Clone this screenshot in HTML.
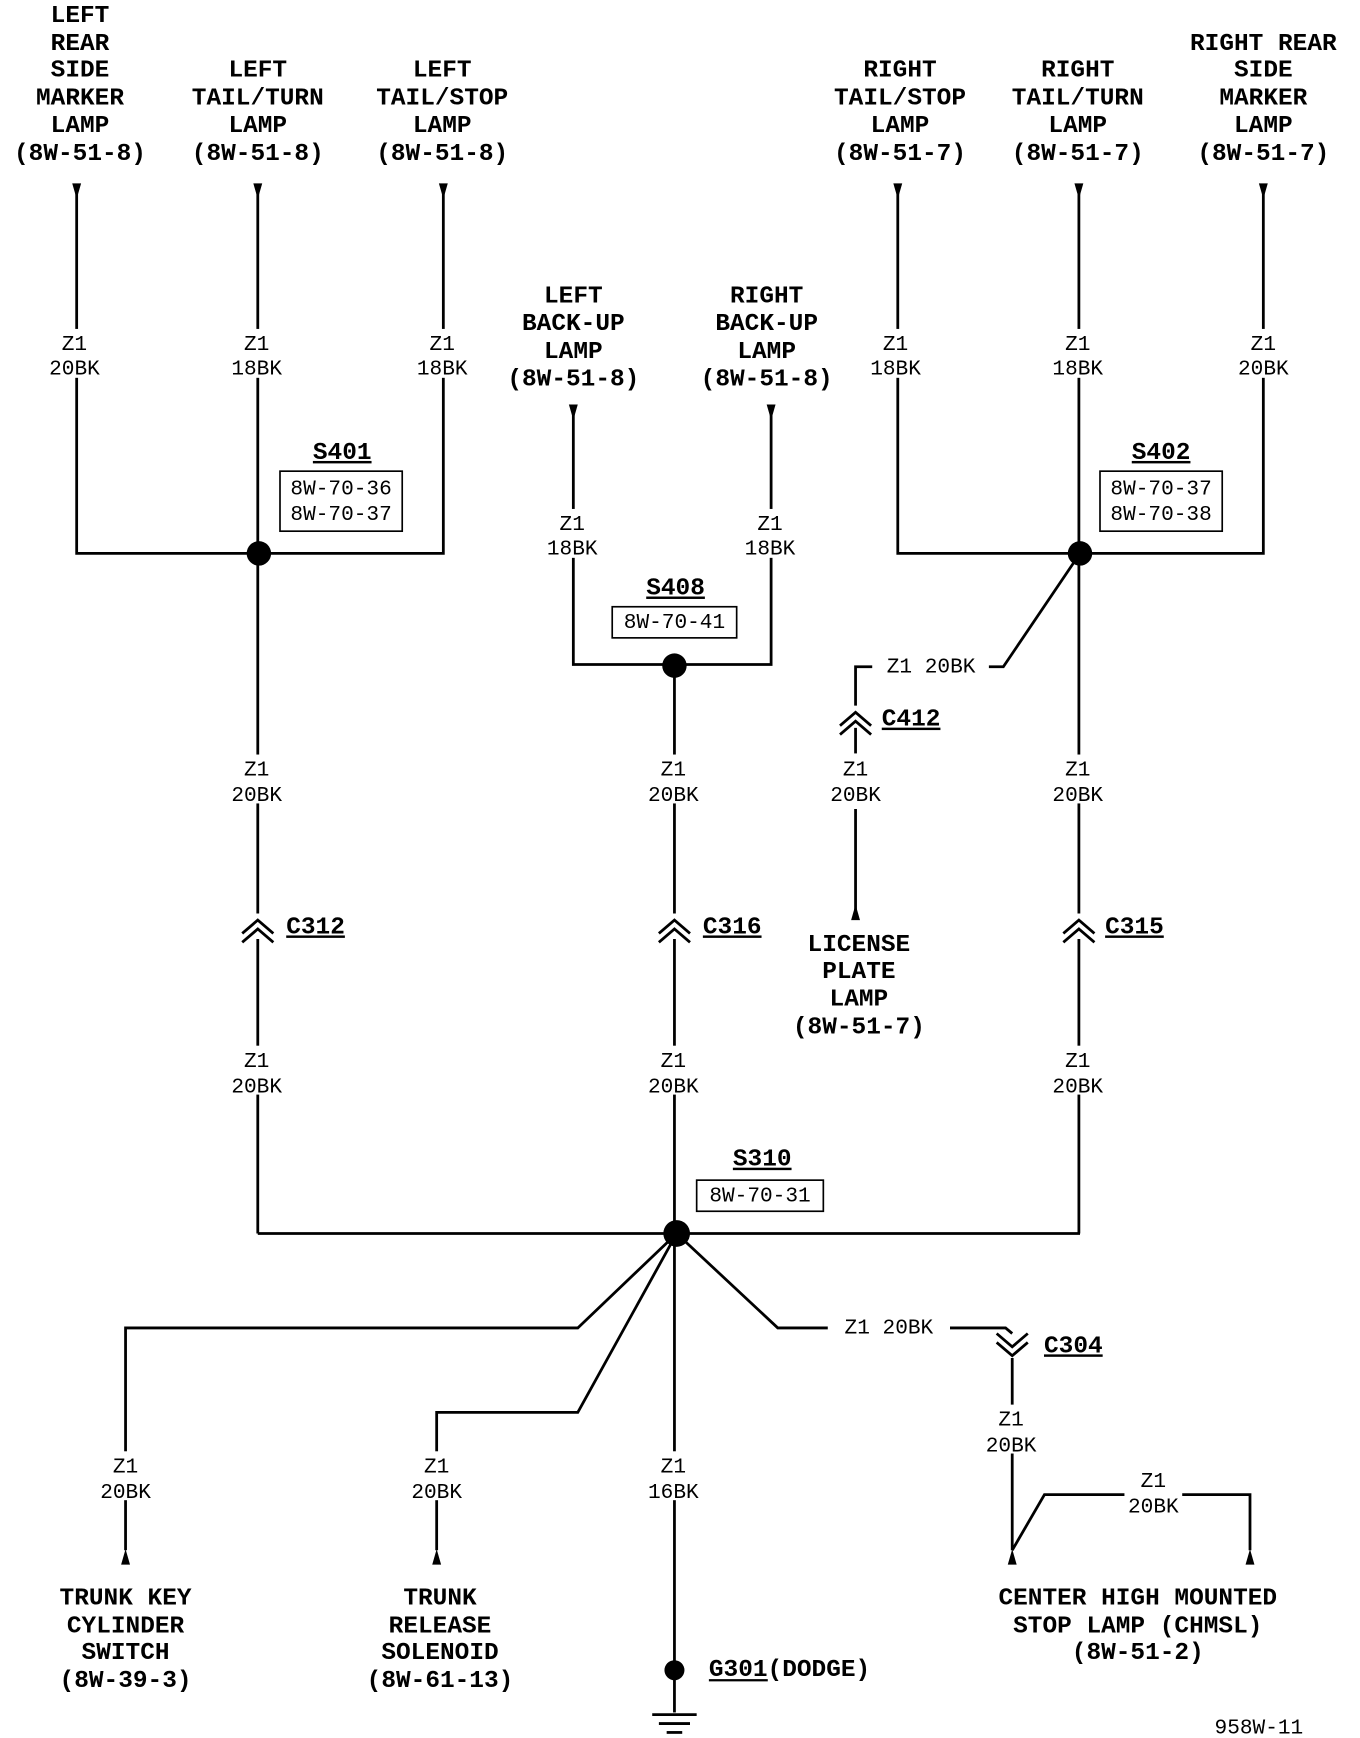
<!DOCTYPE html>
<html><head><meta charset="utf-8"><style>
html,body{margin:0;padding:0;background:#fff;}
svg{display:block}
.b{font-family:"Liberation Mono",monospace;font-weight:bold;font-size:22px;text-anchor:middle;fill:#000}
.w{font-family:"Liberation Mono",monospace;font-size:19px;text-anchor:middle;fill:#000}
.bx{font-family:"Liberation Mono",monospace;font-size:19px;text-anchor:middle;fill:#000}
line,polyline{stroke:#000;stroke-width:2.5;fill:none}
rect{fill:none;stroke:#000;stroke-width:1.5}
</style></head><body>
<svg width="1360" height="1738" viewBox="0 0 1224 1564" preserveAspectRatio="none" xmlns="http://www.w3.org/2000/svg">
<defs>
<path id="ad" d="M-4,0 L4,0 L0,14 Z" fill="#000"/>
<path id="au" d="M-4,0 L4,0 L0,-14 Z" fill="#000"/>
<g id="cu"><path d="M-14,10 L0,-2 L14,10 M-14,18 L0,6 L14,18" style="stroke:#000;stroke-width:2.5;fill:none"/></g>
<g id="cd"><path d="M-14,-10 L0,2 L14,-10 M-14,-18 L0,-6 L14,-18" style="stroke:#000;stroke-width:2.5;fill:none"/></g>
</defs>
<g transform="translate(0,-2)">
<g class="b">
<text x="72" y="22">LEFT</text><text x="72" y="47">REAR</text><text x="72" y="71">SIDE</text><text x="72" y="96">MARKER</text><text x="72" y="121">LAMP</text><text x="72" y="146">(8W-51-8)</text>
<text x="232" y="71">LEFT</text><text x="232" y="96">TAIL/TURN</text><text x="232" y="121">LAMP</text><text x="232" y="146">(8W-51-8)</text>
<text x="398" y="71">LEFT</text><text x="398" y="96">TAIL/STOP</text><text x="398" y="121">LAMP</text><text x="398" y="146">(8W-51-8)</text>
<text x="810" y="71">RIGHT</text><text x="810" y="96">TAIL/STOP</text><text x="810" y="121">LAMP</text><text x="810" y="146">(8W-51-7)</text>
<text x="970" y="71">RIGHT</text><text x="970" y="96">TAIL/TURN</text><text x="970" y="121">LAMP</text><text x="970" y="146">(8W-51-7)</text>
<text x="1137" y="47">RIGHT REAR</text><text x="1137" y="71">SIDE</text><text x="1137" y="96">MARKER</text><text x="1137" y="121">LAMP</text><text x="1137" y="146">(8W-51-7)</text>
<text x="516" y="274">LEFT</text><text x="516" y="299">BACK-UP</text><text x="516" y="324">LAMP</text><text x="516" y="349">(8W-51-8)</text>
<text x="690" y="274">RIGHT</text><text x="690" y="299">BACK-UP</text><text x="690" y="324">LAMP</text><text x="690" y="349">(8W-51-8)</text>
<text x="773" y="858">LICENSE</text><text x="773" y="882">PLATE</text><text x="773" y="907">LAMP</text><text x="773" y="932">(8W-51-7)</text>
<text x="113" y="1446">TRUNK KEY</text><text x="113" y="1471">CYLINDER</text><text x="113" y="1495">SWITCH</text><text x="113" y="1520">(8W-39-3)</text>
<text x="396" y="1446">TRUNK</text><text x="396" y="1471">RELEASE</text><text x="396" y="1495">SOLENOID</text><text x="396" y="1520">(8W-61-13)</text>
<text x="1024" y="1446">CENTER HIGH MOUNTED</text><text x="1024" y="1471">STOP LAMP (CHMSL)</text><text x="1024" y="1495">(8W-51-2)</text>
<text x="638" y="1510" style="text-anchor:start">G301(DODGE)</text>
</g>
<line x1="638" y1="1514" x2="691" y2="1514" style="stroke-width:2"/>
<g class="b" text-decoration="underline">
<text x="308" y="415">S401</text><text x="1045" y="415">S402</text><text x="608" y="537">S408</text><text x="686" y="1051">S310</text>
<text x="284" y="842">C312</text><text x="659" y="842">C316</text><text x="1021" y="842">C315</text><text x="820" y="655">C412</text><text x="966" y="1219">C304</text>
</g>
</g>

<rect x="252" y="424" width="110" height="54"/><text class="bx" x="307" y="445">8W-70-36</text><text class="bx" x="307" y="468">8W-70-37</text>
<rect x="990" y="424" width="110" height="54"/><text class="bx" x="1045" y="445">8W-70-37</text><text class="bx" x="1045" y="468">8W-70-38</text>
<rect x="551" y="546" width="112" height="28"/><text class="bx" x="607" y="565">8W-70-41</text>
<rect x="627" y="1062" width="114" height="28"/><text class="bx" x="684" y="1081">8W-70-31</text>

<polyline points="69,170 69,498 399,498 399,170"/>
<line x1="232" y1="170" x2="232" y2="822"/>
<line x1="232" y1="845" x2="232" y2="1110"/>
<use href="#ad" x="69" y="165"/><use href="#ad" x="232" y="165"/><use href="#ad" x="399" y="165"/>
<use href="#cu" x="232" y="830"/>
<polyline points="808,170 808,498 1137,498 1137,170"/>
<line x1="971" y1="170" x2="971" y2="822"/>
<line x1="971" y1="845" x2="971" y2="1110"/>
<use href="#ad" x="808" y="165"/><use href="#ad" x="971" y="165"/><use href="#ad" x="1137" y="165"/>
<use href="#cu" x="971" y="830"/>
<polyline points="516,368 516,598 694,598 694,368"/>
<use href="#ad" x="516" y="364"/><use href="#ad" x="694" y="364"/>
<line x1="607" y1="598" x2="607" y2="822"/>
<line x1="607" y1="845" x2="607" y2="1500"/>
<use href="#cu" x="607" y="830"/>
<polyline points="972,498 903,600 890,600"/>
<polyline points="785,600 770,600 770,635"/>
<text class="w" x="838" y="605">Z1 20BK</text>
<use href="#cu" x="770" y="643"/>
<line x1="770" y1="655" x2="770" y2="678"/>
<line x1="770" y1="728" x2="770" y2="820"/>
<use href="#au" x="770" y="828"/>
<polyline points="232,1110 972,1110"/>
<polyline points="609,1110 520,1195 113,1195 113,1395"/>
<polyline points="609,1110 520,1271 393,1271 393,1395"/>
<use href="#au" x="113" y="1408"/><use href="#au" x="393" y="1408"/>
<polyline points="609,1110 700,1195 745,1195"/>
<polyline points="855,1195 905,1195 911,1200"/>
<use href="#cd" x="911" y="1218"/>
<line x1="911" y1="1222" x2="911" y2="1395"/>
<text class="w" x="800" y="1200">Z1 20BK</text>
<use href="#au" x="911" y="1408"/>
<polyline points="911,1395 940,1345 1012,1345"/>
<polyline points="1064,1345 1125,1345 1125,1395"/>
<use href="#au" x="1125" y="1408"/>
<line x1="607" y1="1503" x2="607" y2="1541"/>
<line x1="587" y1="1543" x2="627" y2="1543"/>
<line x1="593" y1="1551" x2="621" y2="1551"/>
<line x1="600" y1="1559" x2="614" y2="1559"/>
<circle cx="607" cy="1503" r="9"/>
<circle cx="233" cy="498" r="11"/><circle cx="972" cy="498" r="11"/><circle cx="607" cy="599" r="11"/><circle cx="609" cy="1110" r="12"/>

<g style="fill:#fff">
<rect x="40" y="296" width="56" height="44" style="fill:#fff;stroke:none"/>
<rect x="204" y="296" width="56" height="44" style="fill:#fff;stroke:none"/>
<rect x="371" y="296" width="56" height="44" style="fill:#fff;stroke:none"/>
<rect x="780" y="296" width="56" height="44" style="fill:#fff;stroke:none"/>
<rect x="943" y="296" width="56" height="44" style="fill:#fff;stroke:none"/>
<rect x="1109" y="296" width="56" height="44" style="fill:#fff;stroke:none"/>
<rect x="488" y="458" width="56" height="44" style="fill:#fff;stroke:none"/>
<rect x="666" y="458" width="56" height="44" style="fill:#fff;stroke:none"/>
<rect x="204" y="679" width="56" height="44" style="fill:#fff;stroke:none"/>
<rect x="579" y="679" width="56" height="44" style="fill:#fff;stroke:none"/>
<rect x="943" y="679" width="56" height="44" style="fill:#fff;stroke:none"/>
<rect x="204" y="941" width="56" height="44" style="fill:#fff;stroke:none"/>
<rect x="579" y="941" width="56" height="44" style="fill:#fff;stroke:none"/>
<rect x="943" y="941" width="56" height="44" style="fill:#fff;stroke:none"/>
<rect x="85" y="1306" width="56" height="44" style="fill:#fff;stroke:none"/>
<rect x="365" y="1306" width="56" height="44" style="fill:#fff;stroke:none"/>
<rect x="579" y="1306" width="56" height="44" style="fill:#fff;stroke:none"/>
<rect x="883" y="1264" width="56" height="44" style="fill:#fff;stroke:none"/>
</g>
<g class="w">
<text x="67" y="315">Z1</text><text x="67" y="337">20BK</text>
<text x="231" y="315">Z1</text><text x="231" y="337">18BK</text>
<text x="398" y="315">Z1</text><text x="398" y="337">18BK</text>
<text x="806" y="315">Z1</text><text x="806" y="337">18BK</text>
<text x="970" y="315">Z1</text><text x="970" y="337">18BK</text>
<text x="1137" y="315">Z1</text><text x="1137" y="337">20BK</text>
<text x="515" y="477">Z1</text><text x="515" y="499">18BK</text>
<text x="693" y="477">Z1</text><text x="693" y="499">18BK</text>
<text x="231" y="698">Z1</text><text x="231" y="721">20BK</text>
<text x="606" y="698">Z1</text><text x="606" y="721">20BK</text>
<text x="770" y="698">Z1</text><text x="770" y="721">20BK</text>
<text x="970" y="698">Z1</text><text x="970" y="721">20BK</text>
<text x="231" y="960">Z1</text><text x="231" y="983">20BK</text>
<text x="606" y="960">Z1</text><text x="606" y="983">20BK</text>
<text x="970" y="960">Z1</text><text x="970" y="983">20BK</text>
<text x="113" y="1325">Z1</text><text x="113" y="1348">20BK</text>
<text x="393" y="1325">Z1</text><text x="393" y="1348">20BK</text>
<text x="606" y="1325">Z1</text><text x="606" y="1348">16BK</text>
<text x="910" y="1283">Z1</text><text x="910" y="1306">20BK</text>
<text x="1038" y="1338">Z1</text><text x="1038" y="1361">20BK</text>
<text x="1133" y="1560">958W-11</text>
</g>
</svg>
</body></html>
